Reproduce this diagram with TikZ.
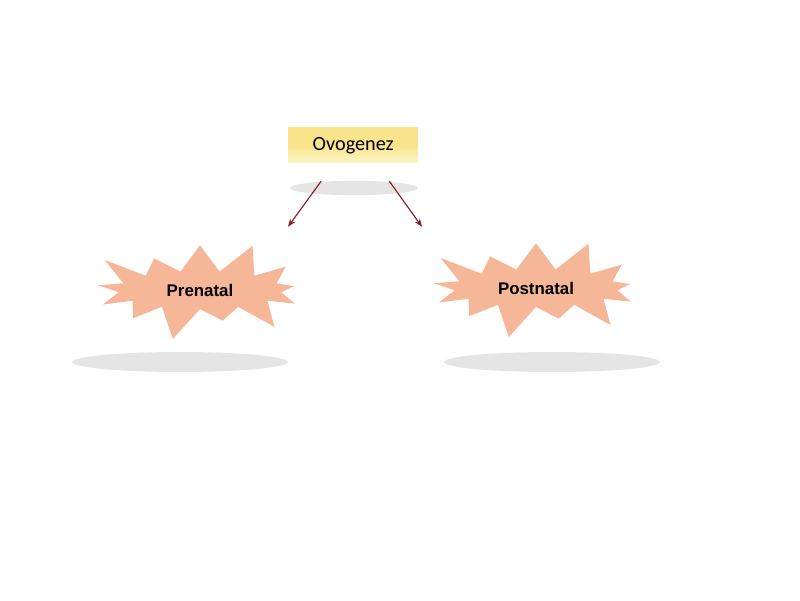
\documentclass[tikz,border=0pt]{standalone}
\usepackage{fontspec}
\setmainfont{Carlito}
\setsansfont{Liberation Sans}
\usetikzlibrary{shapes.symbols,arrows.meta}
\definecolor{burst}{RGB}{246,182,152}
\definecolor{boxtop}{RGB}{250,228,140}
\definecolor{boxbot}{RGB}{252,246,200}
\definecolor{arrowred}{RGB}{130,30,30}
\tikzset{
  burstnode/.style={starburst, starburst points=13, starburst point height=0.9cm,
    fill=burst, draw=none, minimum width=5.9cm, minimum height=2.75cm,
    font=\sffamily\bfseries\large},
  shadowblob/.style={fill=gray!45, opacity=0.45, draw=none},
  link/.style={-{Stealth[length=2mm]}, arrowred, thick}
}
\begin{document}
\begin{tikzpicture}
	\useasboundingbox (0,0) rectangle (20,15);
	% shadows
	\fill[shadowblob] (8.85,10.3) ellipse (1.6 and 0.18);
	\fill[shadowblob] (4.5,5.95) ellipse (2.7 and 0.25);
	\fill[shadowblob] (13.8,5.95) ellipse (2.7 and 0.25);
	% top box
	\node (ovo) at (8.83,11.37) [minimum width=3.25cm, minimum height=0.88cm,
		top color=boxtop, bottom color=boxbot, middle color=boxtop,
		font=\Large] {Ovogenez};
	% bursts
	\node (pre) at (5,7.75) [burstnode] {Prenatal};
	\node (post) at (13.4,7.8) [burstnode] {Postnatal};
	% connectors
	\coordinate (preend) at (7.2,9.33);
	\coordinate (postend) at (10.55,9.33);
	\draw[link] ([xshift=-0.8cm,yshift=-0.45cm]ovo.south) -- (preend);
	\draw[link] ([xshift=0.9cm,yshift=-0.45cm]ovo.south) -- (postend);
\end{tikzpicture}
\end{document}
